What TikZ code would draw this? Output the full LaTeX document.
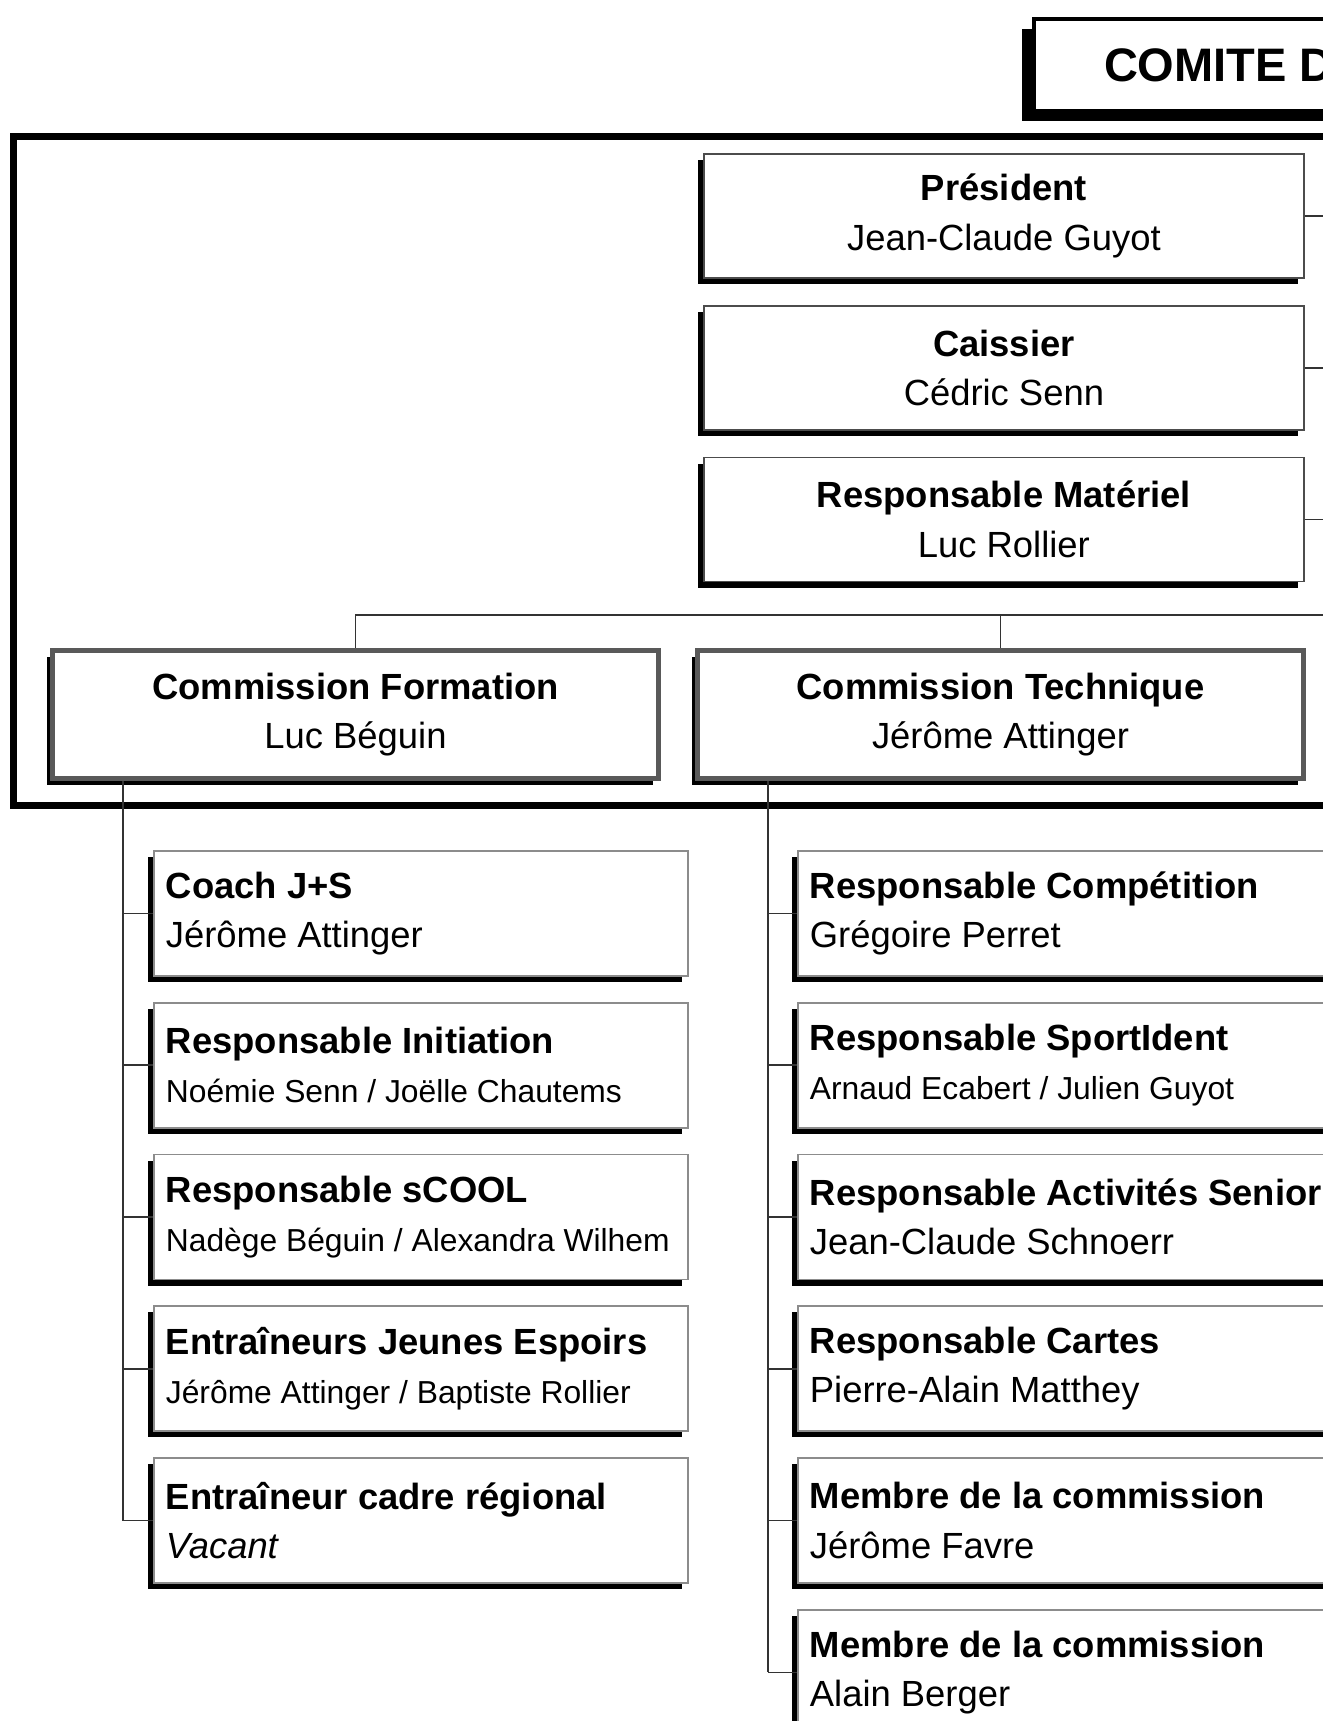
\documentclass[tikz,border=0pt]{standalone}
\usepackage{fontspec}
\setmainfont{Liberation Sans}
\usetikzlibrary{positioning,shadows}

\newcommand{\narrow}{\fontsize{15.9}{24.7}\selectfont}

\begin{document}
\begin{tikzpicture}[x=0.5pt,y=-0.5pt,
    boxshadow/.style={drop shadow={shadow xshift=-3pt,shadow yshift=-3pt,fill=black,opacity=1}},
    titlebox/.style={draw=black,line width=2pt,fill=white,
      drop shadow={shadow xshift=-6pt,shadow yshift=-5pt,fill=black,opacity=1},
      text width=300pt,inner xsep=35pt,minimum height=46pt,align=flush left,
      font=\bfseries\fontsize{23.5}{28}\selectfont},
    topbox/.style={draw=black!70,line width=0.9pt,fill=white,boxshadow,
      minimum width=300pt,minimum height=62pt,align=center,font=\fontsize{18.2}{24.7}\selectfont},
    combox/.style={draw=black!65,line width=2.5pt,fill=white,boxshadow,
      minimum width=303pt,minimum height=64pt,align=center,font=\fontsize{18.2}{24.7}\selectfont},
    childbox/.style={draw=black!45,line width=0.9pt,fill=white,boxshadow,
      text width=255pt,inner xsep=6pt,minimum height=62.5pt,align=flush left,font=\fontsize{18.2}{24.7}\selectfont},
    link/.style={draw=black!80,line width=0.8pt}]
  \useasboundingbox (0,0) rectangle (1323,1721);
  \clip (0,0) rectangle (1323,1721);

  % cadre du comite
  \draw[line width=3.5pt] (13.5,136.5) rectangle (1400,805.5);
  \node[titlebox,anchor=north west] (titre) at (1032,17) {COMITE D};

  % bureau
  \node[topbox,anchor=north west] (pres) at (703,153) {\textbf{Président}\\Jean-Claude Guyot};
  \node[topbox,below=13pt of pres] (caisse) {\textbf{Caissier}\\Cédric Senn};
  \node[topbox,below=13pt of caisse] (mat) {\textbf{Responsable Matériel}\\Luc Rollier};

  % commissions
  \node[combox,anchor=north west] (form) at (50,648) {\textbf{Commission Formation}\\Luc Béguin};
  \node[combox,anchor=north west] (tech) at (695,648) {\textbf{Commission Technique}\\Jérôme Attinger};

  % formation
  \node[childbox,anchor=north west] (coach) at (153,850) {\textbf{Coach J+S}\\Jérôme Attinger};
  \node[childbox,below=12.5pt of coach] (init) {\textbf{Responsable Initiation}\\{\narrow Noémie Senn / Joëlle Chautems}};
  \node[childbox,below=12.5pt of init] (scool) {\textbf{Responsable sCOOL}\\{\narrow Nadège Béguin / Alexandra Wilhem}};
  \node[childbox,below=12.5pt of scool] (espoirs) {\textbf{Entraîneurs Jeunes Espoirs}\\{\narrow Jérôme Attinger / Baptiste Rollier}};
  \node[childbox,below=12.5pt of espoirs] (cadre) {\textbf{Entraîneur cadre régional}\\\textit{Vacant}};

  % technique
  \node[childbox,text width=300pt,anchor=north west] (compet) at (797,850) {\textbf{Responsable Compétition}\\Grégoire Perret};
  \node[childbox,text width=300pt,below=12.5pt of compet] (sident) {\textbf{Responsable SportIdent}\\{\narrow Arnaud Ecabert / Julien Guyot}};
  \node[childbox,text width=300pt,below=12.5pt of sident] (senior) {\textbf{Responsable Activités Senior}\\Jean-Claude Schnoerr};
  \node[childbox,text width=300pt,below=12.5pt of senior] (cartes) {\textbf{Responsable Cartes}\\Pierre-Alain Matthey};
  \node[childbox,text width=300pt,below=12.5pt of cartes] (membreA) {\textbf{Membre de la commission}\\Jérôme Favre};
  \node[childbox,text width=300pt,below=12.5pt of membreA] (membreB) {\textbf{Membre de la commission}\\Alain Berger};

  % liaisons
  \coordinate (rspine) at (1400,0);
  \coordinate (bus) at (1400,615);
  \coordinate (lspine) at (123,0);
  \coordinate (tspine) at (768,0);
  \foreach \n in {pres,caisse,mat}
    \draw[link] (\n.east) -- (\n.east -| rspine);
  \draw[link] (form.north) |- (bus);
  \draw[link] (tech.north) -- (tech.north |- bus);
  \draw[link] (form.south -| lspine) -- (cadre.west -| lspine);
  \foreach \n in {coach,init,scool,espoirs,cadre}
    \draw[link] (\n.west) -- (\n.west -| lspine);
  \draw[link] (tech.south -| tspine) -- (membreB.west -| tspine);
  \foreach \n in {compet,sident,senior,cartes,membreA,membreB}
    \draw[link] (\n.west) -- (\n.west -| tspine);
\end{tikzpicture}
\end{document}
